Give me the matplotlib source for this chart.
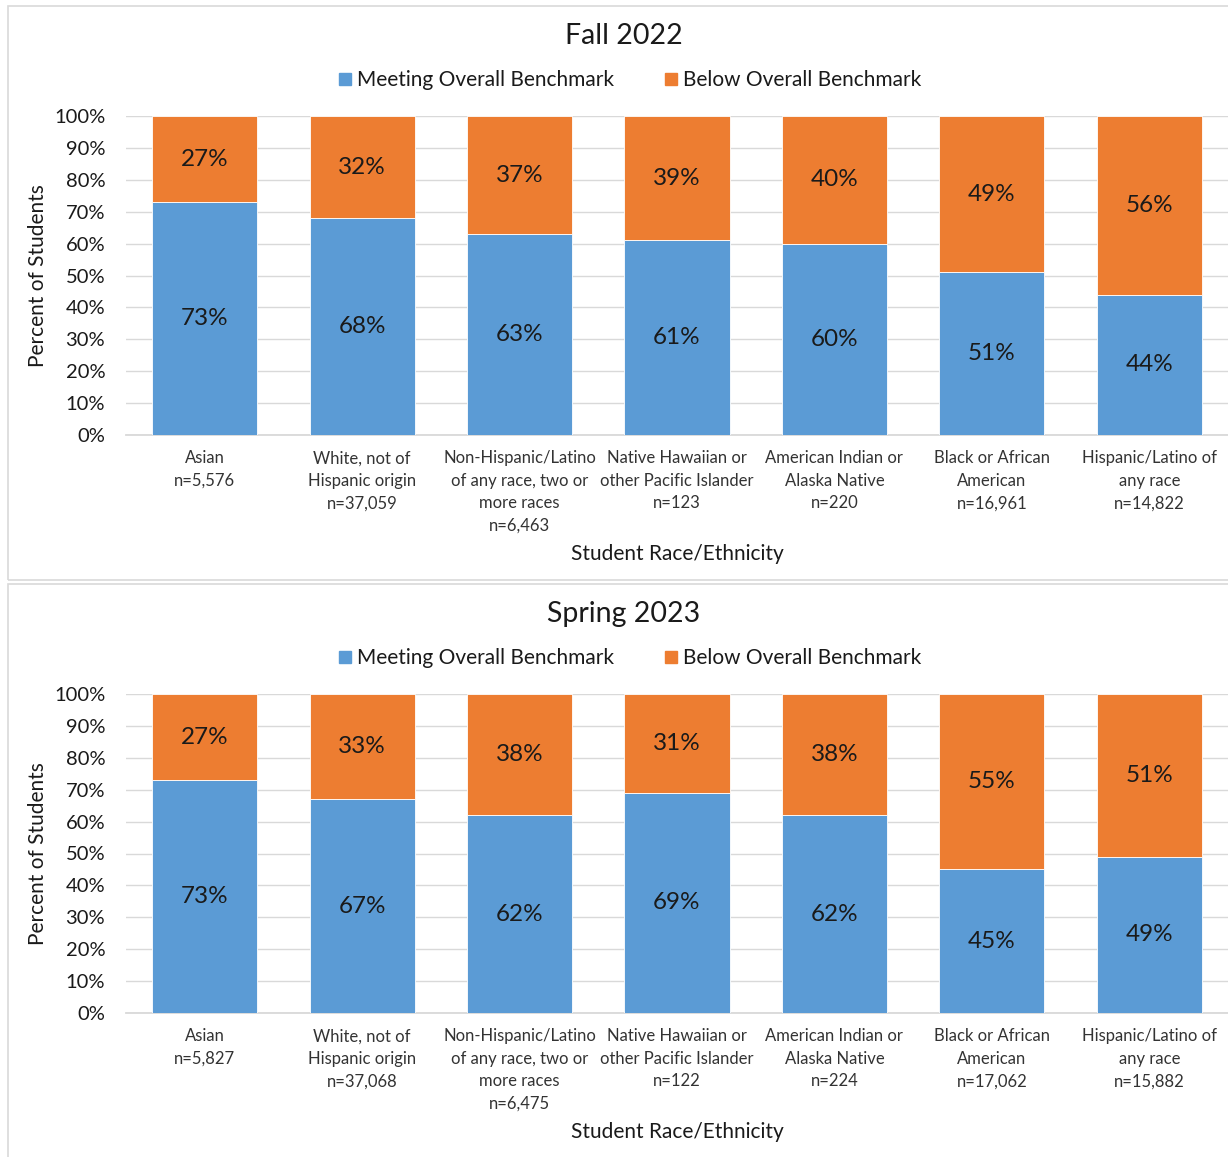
import matplotlib.pyplot as plt
from matplotlib.patches import Rectangle
from matplotlib.lines import Line2D

categories = ['Asian', 'White, not of\nHispanic origin',
              'Non-Hispanic/Latino\nof any race, two or\nmore races',
              'Native Hawaiian or\nother Pacific Islander',
              'American Indian or\nAlaska Native', 'Black or African\nAmerican',
              'Hispanic/Latino of\nany race']

fall_n = ['5,576', '37,059', '6,463', '123', '220', '16,961', '14,822']
fall_meeting = [73, 68, 63, 61, 60, 51, 44]
fall_below = [27, 32, 37, 39, 40, 49, 56]

spring_n = ['5,827', '37,068', '6,475', '122', '224', '17,062', '15,882']
spring_meeting = [73, 67, 62, 69, 62, 45, 49]
spring_below = [27, 33, 38, 31, 38, 55, 51]

BLUE = '#5B9BD5'
ORANGE = '#ED7D31'
GRID = '#D9D9D9'

plt.rcParams['font.family'] = ['Lato', 'DejaVu Sans']

W, H = 1228, 1157
fig = plt.figure(figsize=(W / 100, H / 100), dpi=100)


def px(x, y, w, h):
    # pixel box (top-left origin) -> figure fraction
    return [x / W, 1 - (y + h) / H, w / W, h / H]


def panel(top, title, meeting, below, ns):
    # panel frame
    fig.patches.append(Rectangle((8 / W, 1 - (top + 574) / H), 1.2, 574 / H,
                                 transform=fig.transFigure, fill=False,
                                 edgecolor='#D9D9D9', linewidth=1.2))

    ax = fig.add_axes(px(126, top + 110, 1102, 319))
    x = list(range(len(categories)))
    ax.bar(x, meeting, width=0.667, color=BLUE, edgecolor='white', linewidth=0.6, zorder=3)
    ax.bar(x, below, bottom=meeting, width=0.667, color=ORANGE, edgecolor='white',
           linewidth=0.6, zorder=3)

    for i in x:
        ax.text(i, meeting[i] / 2, f'{meeting[i]}%', ha='center', va='center',
                fontsize=17.5, color='#1a1a1a', zorder=4)
        ax.text(i, meeting[i] + below[i] / 2, f'{below[i]}%', ha='center', va='center',
                fontsize=17.5, color='#1a1a1a', zorder=4)

    ax.set_xlim(-0.5, len(categories) - 0.5)
    ax.set_ylim(0, 100)
    ax.set_yticks(range(0, 101, 10))
    ax.set_yticklabels([f'{v}%' for v in range(0, 101, 10)], fontsize=14.5, color='#1a1a1a')
    ax.set_xticks(x)
    ax.set_xticklabels([f'{c}\nn={n}' for c, n in zip(categories, ns)], fontsize=12,
                       color='#333333', linespacing=1.5, va='top')
    ax.tick_params(axis='both', length=0)
    ax.tick_params(axis='x', pad=11)
    ax.tick_params(axis='y', pad=15)
    ax.grid(axis='y', color=GRID, linewidth=1, zorder=0)
    for s in ['top', 'right', 'left']:
        ax.spines[s].set_visible(False)
    ax.spines['bottom'].set_color(GRID)
    ax.spines['bottom'].set_linewidth(1.3)

    ax.set_ylabel('Percent of Students', fontsize=15, color='#1a1a1a')
    ax.yaxis.set_label_coords(-0.071, 0.5)
    fig.text(677 / W, 1 - (top + 548) / H, 'Student Race/Ethnicity', ha='center',
             va='center', fontsize=15, color='#1a1a1a')
    fig.text(624 / W, 1 - (top + 30) / H, title, ha='center', va='center',
             fontsize=20.5, color='#1a1a1a')

    handles = [Line2D([], [], marker='s', linestyle='none', markersize=9,
                      markerfacecolor=BLUE, markeredgecolor=BLUE),
               Line2D([], [], marker='s', linestyle='none', markersize=9,
                      markerfacecolor=ORANGE, markeredgecolor=ORANGE)]
    fig.legend(handles, ['Meeting Overall Benchmark', 'Below Overall Benchmark'],
               loc='center', bbox_to_anchor=(630 / W, 1 - (top + 74) / H), ncol=2,
               frameon=False, fontsize=15, handlelength=0.6, handletextpad=0.3,
               columnspacing=2.4, labelcolor='#1a1a1a')


panel(6, 'Fall 2022', fall_meeting, fall_below, fall_n)
panel(584, 'Spring 2023', spring_meeting, spring_below, spring_n)

fig.savefig('out.png', dpi=100)
